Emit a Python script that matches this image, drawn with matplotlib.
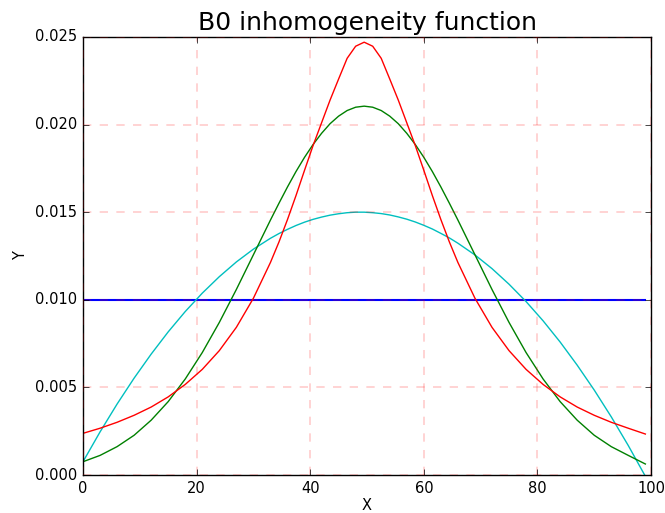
import matplotlib
matplotlib.use("Agg")
import matplotlib.pyplot as plt
from matplotlib.ticker import FormatStrFormatter

# values (denser sampling around the peaks)
x = [0, 3, 6, 9, 12, 15, 18, 21, 24, 27, 30, 33,
     34.5, 36, 37.5, 39, 40.5, 42, 43.5, 45, 46.5, 48, 49.5,
     51, 52.5, 54, 55.5, 57, 58.5, 60, 61.5, 63, 64.5,
     66, 69, 72, 75, 78, 81, 84, 87, 90, 93, 96, 99]

flat = [0.010] * len(x)

parabola = [0.00076, 0.00246, 0.00405, 0.00553, 0.00690, 0.00817, 0.00933,
            0.01038, 0.01132, 0.01216, 0.01289, 0.01351,
            0.01378, 0.01402, 0.01424, 0.01443, 0.01459, 0.01472, 0.01483,
            0.01491, 0.01497, 0.01500, 0.01500,
            0.01497, 0.01492, 0.01484, 0.01473, 0.01460, 0.01444, 0.01425,
            0.01404, 0.01379, 0.01353,
            0.01323, 0.01256, 0.01178, 0.01089, 0.00990, 0.00880, 0.00759,
            0.00627, 0.00485, 0.00332, 0.00168, -0.00007]

gauss = [0.00076, 0.00112, 0.00162, 0.00227, 0.00313, 0.00419, 0.00548,
         0.00699, 0.00871, 0.01059, 0.01257, 0.01455,
         0.01551, 0.01644, 0.01732, 0.01813, 0.01886, 0.01950, 0.02005,
         0.02048, 0.02080, 0.02099, 0.02105,
         0.02099, 0.02080, 0.02048, 0.02005, 0.01950, 0.01886, 0.01813,
         0.01732, 0.01644, 0.01551,
         0.01455, 0.01257, 0.01059, 0.00871, 0.00699, 0.00548, 0.00419,
         0.00313, 0.00227, 0.00162, 0.00112, 0.00063]

lorentz = [0.00238, 0.00267, 0.00301, 0.00341, 0.00388, 0.00446, 0.00517,
           0.00603, 0.00710, 0.00843, 0.01009, 0.01213,
           0.01330, 0.01458, 0.01595, 0.01739, 0.01880, 0.02010, 0.02140,
           0.02260, 0.02378, 0.02447, 0.02470,
           0.02447, 0.02378, 0.02260, 0.02140, 0.02010, 0.01880, 0.01739,
           0.01595, 0.01458, 0.01330,
           0.01213, 0.01009, 0.00843, 0.00710, 0.00603, 0.00517, 0.00446,
           0.00388, 0.00341, 0.00301, 0.00267, 0.00234]

xticks = [0, 20, 40, 60, 80, 100]
yticks = [0.000, 0.005, 0.010, 0.015, 0.020, 0.025]

plt.style.use("classic")

fig = plt.figure(figsize=(6.65, 5.13), dpi=100, facecolor="white")
ax = fig.add_axes([0.1248, 0.074, 0.979 - 0.1248, 0.928 - 0.074])

ax.plot(x, flat, color="b", linewidth=1.5)
ax.plot(x, parabola, color="c", linewidth=1.0)
ax.plot(x, gauss, color="g", linewidth=1.0)
ax.plot(x, lorentz, color="r", linewidth=1.0)

ax.set_xlim(0, 100)
ax.set_ylim(0, 0.025)
ax.set_xticks(xticks)
ax.set_yticks(yticks)
ax.yaxis.set_major_formatter(FormatStrFormatter("%.3f"))
ax.tick_params(labelsize=10.5, direction="in", top=True, right=True)

# classic style: grid drawn over the lines
ax.grid(True, color="red", alpha=0.2, linestyle="--", linewidth=1.2)

ax.set_xlabel("X", fontsize=10.5, labelpad=2)
ax.set_ylabel("Y", fontsize=10.5)
ax.set_title("B0 inhomogeneity function", fontsize=18)

fig.savefig("out.png", dpi=100, facecolor="white")
